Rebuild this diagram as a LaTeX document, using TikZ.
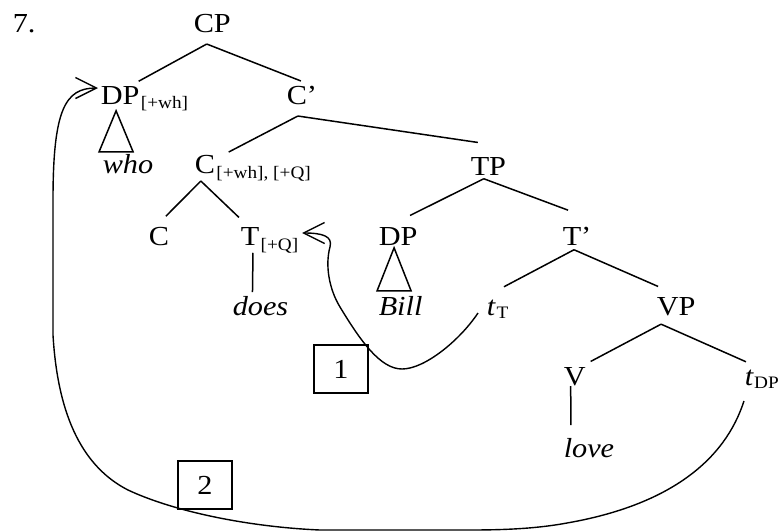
\documentclass[tikz,border=0pt]{standalone}
\usepackage{fontspec}
\setmainfont{Liberation Serif}[FakeStretch=1.1]
\usetikzlibrary{arrows.meta}
\newcommand\mainsz{\fontsize{27.5pt}{33pt}\selectfont}
\newcommand\subsz{\fontsize{17.5pt}{21pt}\selectfont}
\begin{document}
\begin{tikzpicture}[x=1pt,y=-1pt,line width=1.5pt,
  lbl/.style={inner sep=0pt,anchor=base west,font=\mainsz},
  ilbl/.style={inner sep=0pt,anchor=base west,font=\mainsz\itshape},
  sublbl/.style={inner sep=0pt,anchor=base west,font=\subsz},
  numbox/.style={draw,line width=1.5pt,minimum width=54pt,minimum height=48pt,inner sep=0pt,font=\mainsz},
  mv/.style={line width=1.4pt,-{Straight Barb[length=21pt,width=21pt]}}]
\useasboundingbox (0,0) rectangle (779,531);
% labels
\node[lbl] (n7) at (12,32) {7.};
\node[lbl] (CP) at (193,32) {CP};
\node[lbl] (DP1) at (100,104) {DP};
\node[sublbl] (DP1s) at ([yshift=-4.5pt]DP1.base east) {[+wh]};
\node[lbl] (Cb) at (286,104) {C’};
\node[ilbl] (who) at (102,173) {who};
\node[lbl] (C2) at (194,173) {C};
\node[sublbl] (C2s) at ([yshift=-5pt]C2.base east) {[+wh], [+Q]};
\node[lbl] (TP) at (470,175) {TP};
\node[lbl] (C3) at (148,245) {C};
\node[lbl] (T) at (240,245) {T};
\node[sublbl] (Tsub) at ([yshift=-5pt]T.base east) {[+Q]};
\node[ilbl] (does) at (232,315) {does};
\node[lbl] (DP2) at (378,245) {DP};
\node[ilbl] (Bill) at (378,315) {Bill};
\node[lbl] (Tb) at (562,245) {T’};
\node[ilbl] (tT) at (486,315) {t};
\node[sublbl] (tTs) at ([yshift=-3.5pt]tT.base east) {T};
\node[lbl] (VP) at (656,315) {VP};
\node[lbl] (V) at (563,385) {V};
\node[ilbl] (love) at (563,457) {love};
\node[ilbl] (tDP) at (744,385) {t};
\node[sublbl] (tDPs) at ([shift={(-0.5,3.5)}]tDP.base east) {DP};
\node[numbox] (b1) at (341,369) {1};
\node[numbox] (b2) at (205,485) {2};
% tree edges
\draw ([shift={(-5.5,11)}]CP.south) -- ([shift={(-1.5,-4)}]DP1.north east);
\draw ([shift={(-5.5,11)}]CP.south) -- ([shift={(-1,-4)}]Cb.north);
\draw ([shift={(-4,11)}]Cb.south) -- ([shift={(13,-2)}]C2.north east);
\draw ([shift={(-4,11)}]Cb.south) -- ([shift={(-10.6,-13.8)}]TP.north);
\draw ([shift={(-4,7)}]C2.south) -- ([shift={(7,-9.8)}]C3.north);
\draw ([shift={(-4,7)}]C2.south) -- ([shift={(-11,-8.8)}]T.north);
\draw ([shift={(3,7)}]T.south) -- ([shift={(-8,-3)}]does.north);
\draw ([shift={(-4.6,3)}]TP.south) -- ([shift={(12,-10.8)}]DP2.north);
\draw ([shift={(-4.6,3)}]TP.south) -- ([shift={(-9,-15.8)}]Tb.north);
\draw ([shift={(-3,4)}]Tb.south) -- ([shift={(13,-12)}]tT.north);
\draw ([shift={(-3,4)}]Tb.south) -- ([shift={(-18,-9.8)}]VP.north);
\draw ([shift={(-15,8)}]VP.south) -- ([shift={(16,-4.8)}]V.north);
\draw ([shift={(-15,8)}]VP.south) -- ([shift={(-3,-7)}]tDP.north);
\draw ([shift={(-4,0)}]V.south) -- ([shift={(-18,-12)}]love.north);
% triangles
\draw ([shift={(-4,6)}]DP1.south) -- ([shift={(-21,47)}]DP1.south) -- ([shift={(13,47)}]DP1.south) -- cycle;
\draw ([shift={(-4,2)}]DP2.south) -- ([shift={(-21,45)}]DP2.south) -- ([shift={(13,45)}]DP2.south) -- cycle;
% movement arrows
\draw[mv] ([shift={(-8,-2)}]tT.base west) .. controls (460,340) and (425,369) .. (402,369)
  .. controls (380,369) and (360,340) .. (340,307)
  .. controls (329,289) and (325,265) .. (330,247)
  .. controls (333,236) and (322,233) .. ([shift={(3,-17)}]Tsub.base east);
\draw[mv] ([shift={(-5,15)}]tDP.south) .. controls (725,460) and (670,505) .. (567,523)
  .. controls (540,528) and (510,530) .. (470,530) -- (320,530)
  .. controls (250,527) and (175,512) .. (128,490)
  .. controls (85,468) and (58,420) .. (53,335) -- (53,200)
  .. controls (53,110) and (65,88) .. ([shift={(-2,-7)}]DP1.west);
\end{tikzpicture}
\end{document}
